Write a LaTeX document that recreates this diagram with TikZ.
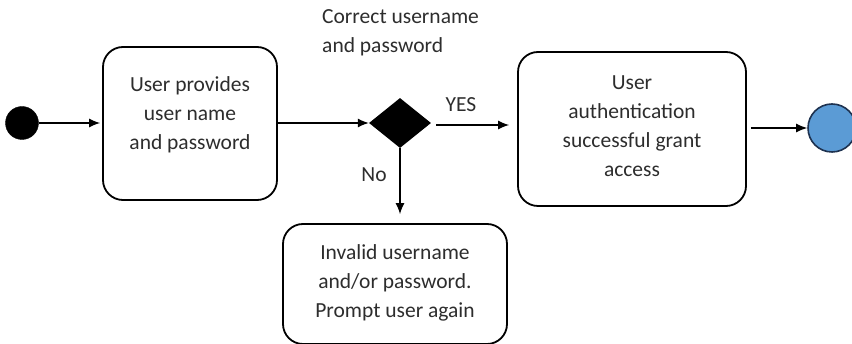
\documentclass[tikz,border=0pt]{standalone}
\usepackage{fontspec}
\setmainfont{Carlito}
\usetikzlibrary{shapes.geometric,arrows.meta}
\definecolor{endblue}{RGB}{91,155,213}
\definecolor{endedge}{RGB}{30,50,80}
\definecolor{txt}{RGB}{45,45,45}
\begin{document}
\begin{tikzpicture}[x=1pt,y=1pt,
  box/.style={draw, line width=1.8pt, rounded corners=20pt, inner sep=0pt},
  lbl/.style={font=\fontsize{21.5}{29}\selectfont, text=txt, align=center, inner sep=0pt},
  arr/.style={line width=1.2pt, -{Latex[length=11pt,width=9pt]}}]
\useasboundingbox (0,0) rectangle (852,-344);
\node[circle, fill=black, draw=black, minimum size=33pt, inner sep=0pt] (start) at (22,-123) {};
\node[box, minimum width=174pt, minimum height=153pt] (b1) at (190,-123.5) {};
\node[lbl] (t1) at (190,-115) {User provides\\user name\\and password};
\node[diamond, fill=black, minimum width=62pt, minimum height=50pt, inner sep=0pt] (d) at (400,-123) {};
\node[box, minimum width=228pt, minimum height=154pt] (b2) at (632,-129) {};
\node[lbl] (t2) at (632,-126) {User\\authentication\\successful grant\\access};
\node[box, minimum width=224pt, minimum height=120pt] (b3) at (395,-284) {};
\node[lbl] (t3) at (395,-283) {Invalid username\\and/or password.\\Prompt user again};
\node[circle, fill=endblue, draw=endedge, line width=1.6pt, minimum size=48pt, inner sep=0pt] (end) at (832,-128) {};
\node[lbl, align=left, anchor=west] (cond) at (322,-33) {Correct username\\and password};
\node[lbl] (yes) at (461,-105) {YES};
\node[lbl] (no) at (374,-175) {No};
\draw[arr, shorten >=2pt] (start) -- (b1.west|-start);
\draw[arr] (b1.east|-d) -- (d.west);
\draw[arr, shorten <=5pt, shorten >=8pt] ([yshift=-2pt]d.east) -- ([yshift=-2pt]b2.west|-d);
\draw[arr, shorten >=9pt] (d.south) -- (b3.north-|d);
\draw[arr, shorten <=4pt] (b2.east|-end) -- (end.west);
\end{tikzpicture}
\end{document}
